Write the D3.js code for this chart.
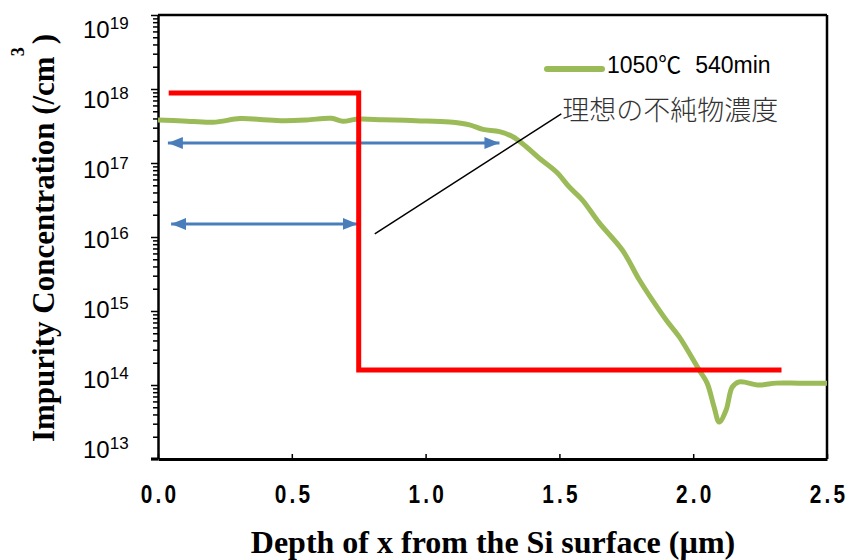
<!DOCTYPE html>
<html><head><meta charset="utf-8">
<script src="https://cdnjs.cloudflare.com/ajax/libs/d3/7.8.5/d3.min.js"></script>
<style>body{margin:0;background:#fff}svg{display:block}</style>
</head><body>
<svg id="chart" width="847" height="560"></svg>
<script>
// ---- data ----
const xTicks = [0, 0.5, 1.0, 1.5, 2.0, 2.5];
const xTickLabels = ["0.0", "0.5", "1.0", "1.5", "2.0", "2.5"];
const yExponents = [13, 14, 15, 16, 17, 18, 19];

const seriesTemp = "1050\u2103";
const seriesTime = "540min";
const measuredDepth = [0.000, 0.094, 0.206, 0.306, 0.381, 0.468, 0.555, 0.648, 0.691, 0.741,
  0.841, 0.965, 1.090, 1.164, 1.214, 1.276, 1.326, 1.376, 1.425, 1.489,
  1.537, 1.586, 1.649, 1.735, 1.799, 1.847, 1.899, 1.948, 2.022, 2.052,
  2.078, 2.097, 2.123, 2.146, 2.172, 2.246, 2.310, 2.396, 2.500];
const measuredConc = [3.81e17, 3.70e17, 3.55e17, 3.98e17, 3.88e17, 3.73e17, 3.81e17, 4.02e17, 3.66e17, 3.90e17,
  3.85e17, 3.73e17, 3.58e17, 3.27e17, 2.85e17, 2.65e17, 2.26e17, 1.66e17, 1.16e17, 7.55e16,
  4.74e16, 3.16e16, 1.55e16, 6.67e15, 2.62e15, 1.41e15, 7.55e14, 4.46e14, 1.60e14, 1.06e14,
  5.05e13, 3.16e13, 4.59e13, 9.40e13, 1.10e14, 1.00e14, 1.06e14, 1.06e14, 1.06e14];

const idealDepth = [0.04, 0.75, 0.75, 2.33];
const idealConc = [8.8e17, 8.8e17, 1.6e14, 1.6e14];

const arrowStart = [0.037, 0.049];
const arrowEnd = [1.276, 0.746];
const arrowConc = [1.86e17, 1.5e16];

const annotationText = "理想の不純物濃度";
const leaderDepth = [0.81, 1.507];
const leaderConc = [1.1e16, 4.6e17];

const xTitle = "Depth of x from the Si surface (\u00b5m)";
const yTitleMain = "Impurity Concentration (/cm";
const yTitleSup = "3";
const yTitleEnd = ")";

// ---- scales ----
const svg = d3.select("#chart");
const x = d3.scaleLinear().domain([0, 2.5]).range([158, 827]);
const y = d3.scaleLog().domain([1e13, 1e19]).range([459, 15]);
const labelY = d3.scaleLinear().domain([13, 19]).range([458, 38]);

const majorTicks = yExponents.map(e => Math.pow(10, e));
const minorTicks = [];
yExponents.slice(0, -1).forEach(e => { for (let k = 2; k <= 9; k++) minorTicks.push(k * Math.pow(10, e)); });

// ---- frame ----
svg.append("line").attr("x1", x(0)).attr("x2", x(2.5)).attr("y1", y(1e19)).attr("y2", y(1e19))
  .attr("stroke", "#000").attr("stroke-width", 2.5);
svg.append("line").attr("x1", x(2.5)).attr("x2", x(2.5)).attr("y1", y(1e19)).attr("y2", y(1e13))
  .attr("stroke", "#000").attr("stroke-width", 2.5);

// ---- y axis ----
const gyMinor = svg.append("g").attr("transform", `translate(${x(0)},0)`)
  .call(d3.axisLeft(y).tickValues(minorTicks).tickSize(5).tickFormat(""));
gyMinor.select(".domain").remove();
gyMinor.selectAll("line").attr("stroke", "#000").attr("stroke-width", 1.5);
const gyMajor = svg.append("g").attr("transform", `translate(${x(0)},0)`)
  .call(d3.axisLeft(y).tickValues(majorTicks).tickSizeInner(7).tickSizeOuter(0).tickFormat(""));
gyMajor.select(".domain").attr("stroke", "#000").attr("stroke-width", 2.5);
gyMajor.selectAll("line").attr("stroke", "#000").attr("stroke-width", 1.5);

const yl = svg.append("g").attr("font-family", "'Liberation Sans', Arial, sans-serif").attr("fill", "#000");
yExponents.forEach(e => {
  const t = yl.append("text").attr("x", 83).attr("y", labelY(e)).attr("font-size", 24);
  t.append("tspan").text("10");
  t.append("tspan").attr("font-size", 17).attr("dy", -9).text(String(e));
});

// ---- x axis ----
const gx = svg.append("g").attr("transform", `translate(0,${y(1e13)})`)
  .call(d3.axisBottom(x).tickValues(xTicks).tickSizeInner(-5).tickSizeOuter(0).tickPadding(26)
    .tickFormat((d, i) => xTickLabels[i]));
gx.select(".domain").attr("stroke", "#000").attr("stroke-width", 3);
gx.selectAll("line").attr("stroke", "#000").attr("stroke-width", 1.5);
gx.selectAll("text").attr("font-family", "'Liberation Sans', Arial, sans-serif")
  .attr("font-size", 26).attr("font-weight", "bold").attr("fill", "#000")
  .attr("letter-spacing", "4px").attr("dx", "2px")
  .each(function() {
    const t = d3.select(this);
    t.attr("transform", `translate(0,${t.attr("y")}) scale(0.8,1)`).attr("y", 0);
  });
svg.append("line").attr("x1", 151).attr("x2", x(0)).attr("y1", y(1e13)).attr("y2", y(1e13))
  .attr("stroke", "#000").attr("stroke-width", 3);

// ---- titles ----
svg.append("text").attr("x", 493).attr("y", 553).attr("text-anchor", "middle")
  .attr("font-family", "'Liberation Serif', 'Times New Roman', serif").attr("font-weight", "bold")
  .attr("font-size", 32).attr("fill", "#000").text(xTitle);

const yt = svg.append("text").attr("transform", "translate(54,238) rotate(-90)").attr("text-anchor", "middle")
  .attr("font-family", "'Liberation Serif', 'Times New Roman', serif").attr("font-weight", "bold")
  .attr("font-size", 31).attr("fill", "#000");
yt.append("tspan").text(yTitleMain);
yt.append("tspan").attr("font-size", 18).attr("dy", -30).text(yTitleSup);
yt.append("tspan").attr("dy", 30).attr("dx", 3).text(yTitleEnd);

// ---- marks ----
const line = d3.line().x(d => x(d[0])).y(d => y(d[1]));

const measured = measuredDepth.map((d, i) => [d, measuredConc[i]]);
svg.append("path").datum(measured)
  .attr("d", line.curve(d3.curveCatmullRom.alpha(0.5)))
  .attr("fill", "none").attr("stroke", "#9bbb59").attr("stroke-width", 5)
  .attr("stroke-linejoin", "round");

const defs = svg.append("defs");
defs.append("marker").attr("id", "ah").attr("markerUnits", "userSpaceOnUse")
  .attr("viewBox", "0 -7 16 14").attr("refX", 15).attr("refY", 0)
  .attr("markerWidth", 16).attr("markerHeight", 14).attr("orient", "auto-start-reverse")
  .append("path").attr("d", "M0,-6L15,0L0,6Z").attr("fill", "#4a7ebb");
arrowConc.forEach((c, i) => {
  svg.append("line").attr("x1", x(arrowStart[i])).attr("x2", x(arrowEnd[i]))
    .attr("y1", y(c)).attr("y2", y(c))
    .attr("stroke", "#4a7ebb").attr("stroke-width", 3)
    .attr("marker-start", "url(#ah)").attr("marker-end", "url(#ah)");
});

const ideal = idealDepth.map((d, i) => [d, idealConc[i]]);
svg.append("path").datum(ideal)
  .attr("d", d3.line().x(d => x(d[0])).y(d => y(d[1])))
  .attr("fill", "none").attr("stroke", "#ff0000").attr("stroke-width", 5)
  .attr("stroke-linejoin", "miter");

svg.append("line").attr("x1", x(leaderDepth[0])).attr("y1", y(leaderConc[0]))
  .attr("x2", x(leaderDepth[1])).attr("y2", y(leaderConc[1]))
  .attr("stroke", "#000").attr("stroke-width", 1.5);
svg.append("text").attr("x", x(leaderDepth[1]) + 1).attr("y", 120)
  .attr("font-family", "'Noto Sans CJK JP', sans-serif").attr("font-weight", 300)
  .attr("font-size", 27).attr("fill", "#333").text(annotationText);

// legend
svg.append("line").attr("x1", 547).attr("x2", 602).attr("y1", 69).attr("y2", 69)
  .attr("stroke", "#9bbb59").attr("stroke-width", 6).attr("stroke-linecap", "round");
const lt = svg.append("text").attr("x", 607).attr("y", 73)
  .attr("font-family", "'Liberation Sans', 'Noto Sans CJK JP', sans-serif")
  .attr("font-size", 23).attr("fill", "#000");
lt.append("tspan").text(seriesTemp);
lt.append("tspan").attr("dx", 14).text(seriesTime);
</script>
</body></html>
